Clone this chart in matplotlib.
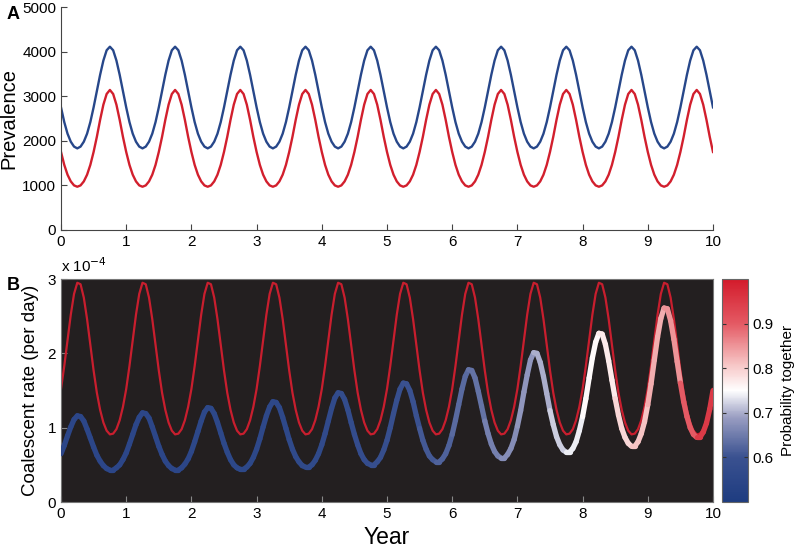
import numpy as np
import matplotlib
matplotlib.use('Agg')
import matplotlib.pyplot as plt
from matplotlib.collections import LineCollection
from matplotlib.colors import LinearSegmentedColormap, Normalize

plt.rcParams['font.family'] = ['Liberation Sans', 'DejaVu Sans']

# time grid, years (step 0.05)
years = np.arange(201) * 0.05

# one seasonal cycle of prevalence (t = 0.00 ... 0.95), repeats every year
prev_blue_cycle = [2750, 2420, 2160, 1980, 1870, 1830, 1870, 1980, 2160, 2420,
                   2750, 3110, 3480, 3800, 4030, 4110, 4030, 3800, 3480, 3110]
prev_red_cycle = [1750, 1460, 1240, 1090, 1000, 970, 1000, 1090, 1240, 1460,
                  1750, 2090, 2470, 2810, 3050, 3140, 3050, 2810, 2470, 2090]

# coalescent rate of the red lineage (x 1e-4 per day), one cycle
coal_red_cycle = [1.52, 1.83, 2.18, 2.52, 2.80, 2.95, 2.93, 2.75, 2.46, 2.11,
                  1.77, 1.47, 1.24, 1.07, 0.96, 0.91, 0.92, 0.98, 1.10, 1.28]

# coalescent rate of the pair (x 1e-4 per day), full 10 years
coal_pair = [
    0.65, 0.76, 0.89, 1.01, 1.11, 1.16, 1.15, 1.09, 0.98, 0.86, 0.74, 0.63, 0.55, 0.49, 0.45, 0.43, 0.43, 0.46, 0.50, 0.57,
    0.66, 0.78, 0.91, 1.04, 1.14, 1.20, 1.19, 1.13, 1.01, 0.88, 0.75, 0.64, 0.55, 0.49, 0.45, 0.43, 0.43, 0.46, 0.51, 0.58,
    0.68, 0.81, 0.95, 1.09, 1.21, 1.27, 1.26, 1.19, 1.07, 0.93, 0.79, 0.67, 0.57, 0.50, 0.46, 0.44, 0.44, 0.47, 0.52, 0.60,
    0.71, 0.85, 1.01, 1.16, 1.28, 1.35, 1.34, 1.27, 1.14, 0.99, 0.84, 0.71, 0.61, 0.54, 0.49, 0.47, 0.47, 0.50, 0.56, 0.65,
    0.77, 0.92, 1.09, 1.26, 1.40, 1.47, 1.46, 1.38, 1.24, 1.07, 0.91, 0.77, 0.65, 0.57, 0.52, 0.50, 0.50, 0.54, 0.60, 0.70,
    0.83, 1.00, 1.19, 1.37, 1.52, 1.60, 1.59, 1.50, 1.35, 1.16, 0.99, 0.83, 0.71, 0.62, 0.57, 0.54, 0.54, 0.58, 0.65, 0.76,
    0.91, 1.10, 1.31, 1.52, 1.69, 1.78, 1.77, 1.67, 1.49, 1.29, 1.09, 0.92, 0.78, 0.68, 0.62, 0.59, 0.59, 0.64, 0.72, 0.84,
    1.02, 1.23, 1.48, 1.71, 1.91, 2.01, 2.00, 1.88, 1.69, 1.46, 1.23, 1.04, 0.88, 0.77, 0.70, 0.67, 0.67, 0.72, 0.81, 0.96,
    1.15, 1.39, 1.67, 1.94, 2.15, 2.27, 2.26, 2.12, 1.90, 1.64, 1.39, 1.17, 0.99, 0.87, 0.79, 0.75, 0.75, 0.81, 0.92, 1.08,
    1.31, 1.59, 1.91, 2.22, 2.47, 2.61, 2.60, 2.44, 2.19, 1.89, 1.60, 1.35, 1.15, 1.00, 0.91, 0.87, 0.87, 0.94, 1.06, 1.25,
    1.50,
]

# probability the pair is together, one value per quarter year
prob_together = [
    0.55, 0.55, 0.55, 0.55,
    0.55, 0.55, 0.55, 0.55,
    0.555, 0.555, 0.555, 0.555,
    0.56, 0.56, 0.565, 0.565,
    0.57, 0.575, 0.58, 0.585,
    0.59, 0.60, 0.61, 0.62,
    0.63, 0.64, 0.655, 0.67,
    0.68, 0.70, 0.72, 0.74,
    0.755, 0.77, 0.79, 0.81,
    0.83, 0.85, 0.90, 0.95,
]

n_years = 10
prev_blue = np.append(np.tile(prev_blue_cycle, n_years), prev_blue_cycle[0])
prev_red = np.append(np.tile(prev_red_cycle, n_years), prev_red_cycle[0])
coal_red = np.append(np.tile(coal_red_cycle, n_years), coal_red_cycle[0])
coal_pair = np.array(coal_pair)

blue = '#27478a'
red = '#d21f2d'

fig = plt.figure(figsize=(8, 5.48), dpi=100)
axA = fig.add_axes([0.07625, 0.5803, 0.815, 0.4069])
axB = fig.add_axes([0.07625, 0.0839, 0.815, 0.4069])
cax = fig.add_axes([0.9025, 0.0839, 0.0325, 0.4069])

# panel A
axA.plot(years, prev_blue, color=blue, lw=1.7)
axA.plot(years, prev_red, color=red, lw=1.7)
axA.set_xlim(0, 10)
axA.set_ylim(0, 5000)
axA.set_xticks(range(11))
axA.set_yticks(range(0, 5001, 1000))
axA.spines['top'].set_visible(False)
axA.spines['right'].set_visible(False)
axA.set_ylabel('Prevalence', fontsize=14.5, labelpad=3)
axA.tick_params(direction='in', labelsize=11, length=4, color='#444444')
for s in axA.spines.values():
    s.set_color('#444444')

# panel B
axB.set_facecolor('#231f20')
axB.plot(years, coal_red, color='#c81e2e', lw=1.6, zorder=2)

cmap = LinearSegmentedColormap.from_list('bwr_custom', [
    (0.0, '#1e3c80'), (0.2, '#3a5190'), (0.38, '#9a9ec2'), (0.5, '#ffffff'),
    (0.62, '#f6c4c4'), (0.8, '#e45a64'), (1.0, '#d31b2b')])
norm = Normalize(0.5, 1.0)

pts = np.column_stack([years, coal_pair]).reshape(-1, 1, 2)
segs = np.concatenate([pts[:-1], pts[1:]], axis=1)
seg_prob = np.repeat(prob_together, 5)
lc = LineCollection(segs, cmap=cmap, norm=norm, linewidths=3.8, capstyle='round', zorder=3)
lc.set_array(seg_prob)
axB.add_collection(lc)

axB.set_xlim(0, 10)
axB.set_ylim(0, 3)
axB.set_xticks(range(11))
axB.set_yticks([0, 1, 2, 3])
axB.set_xlabel('Year', fontsize=16.5, labelpad=4)
axB.set_ylabel('Coalescent rate (per day)', fontsize=13.5, labelpad=6)
axB.tick_params(direction='in', labelsize=11, length=4, color='#888888')
for s in axB.spines.values():
    s.set_color('#777777')
axB.text(0.0, 1.02, r'x 10$^{-4}$', transform=axB.transAxes, fontsize=11,
         ha='left', va='bottom')

cb = fig.colorbar(lc, cax=cax)
cb.set_ticks([0.6, 0.7, 0.8, 0.9])
cb.ax.tick_params(direction='in', labelsize=11, length=3, left=True, right=True, color='#333333')
cb.set_label('Probability together', fontsize=11, labelpad=5)
cb.outline.set_edgecolor('#666666')

fig.text(0.008, 0.965, 'A', fontsize=13, fontweight='bold')
fig.text(0.008, 0.47, 'B', fontsize=13, fontweight='bold')

fig.savefig('out.png', dpi=100)
